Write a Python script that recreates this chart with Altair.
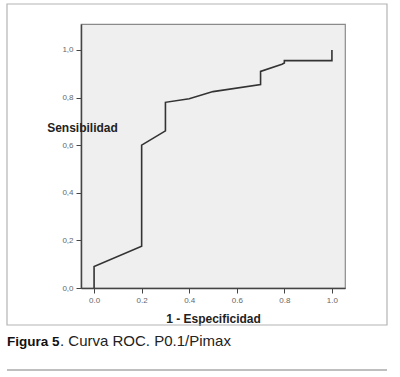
import altair as alt
import pandas as pd

# ROC curve points (1 - specificity, sensitivity)
fpr = [0.0, 0.0, 0.2, 0.2, 0.3, 0.3, 0.4, 0.5, 0.7, 0.7, 0.79, 0.8, 0.8, 1.0, 1.0]
tpr = [0.0, 0.09, 0.175, 0.60, 0.66, 0.78, 0.795, 0.825, 0.855, 0.91, 0.94, 0.945, 0.955, 0.955, 1.0]
ticks = [0.0, 0.2, 0.4, 0.6, 0.8, 1.0]

x_title = "1 - Especificidad"
y_title = "Sensibilidad"
caption_bold = "Figura 5"
caption_rest = ". Curva ROC. P0.1/Pimax"

df = pd.DataFrame({"fpr": fpr, "tpr": tpr, "i": list(range(len(fpr)))})

W, H = 264, 264
PL, PT = 81, 24

x_scale = alt.Scale(domain=[-0.055, 1.055], nice=False, zero=False)
y_scale = alt.Scale(domain=[0, 1.109], nice=False)

frame = alt.Chart(pd.DataFrame({"a": [0]})).mark_rect(
    fill="white", fillOpacity=0, stroke="#b4b4b4", strokeWidth=1.2
).encode(
    x=alt.value(7 - PL), x2=alt.value(387 - PL),
    y=alt.value(4 - PT), y2=alt.value(325 - PT)
)

line = alt.Chart(df).mark_line(color="#333333", strokeWidth=1.6).encode(
    x=alt.X("fpr:Q", scale=x_scale,
            axis=alt.Axis(values=ticks, format=".1f", title=x_title,
                          titleFontSize=12, titleFontWeight="bold",
                          titleFont="Liberation Sans", titleColor="#222",
                          titlePadding=4, titleY=37, titleBaseline="bottom")),
    y=alt.Y("tpr:Q", scale=y_scale,
            axis=alt.Axis(values=ticks,
                          labelExpr="replace(format(datum.value, '.1f'), '.', ',')",
                          title=y_title, titleAngle=0, titleFontSize=12,
                          titleFontWeight="bold", titleFont="Liberation Sans",
                          titleColor="#222", titleX=1, titleY=107,
                          titleAlign="center", titleBaseline="alphabetic")),
    order="i:O",
)

cap1 = alt.Chart(pd.DataFrame({"t": [caption_bold]})).mark_text(
    align="left", baseline="alphabetic", fontSize=13.5, fontWeight="bold",
    font="Liberation Sans, Arial, sans-serif", color="#111"
).encode(text="t:N", x=alt.value(7 - PL), y=alt.value(346 - PT))

cap2 = alt.Chart(pd.DataFrame({"t": [caption_rest]})).mark_text(
    align="left", baseline="alphabetic", fontSize=15,
    font="Liberation Sans, Arial, sans-serif", color="#222"
).encode(text="t:N", x=alt.value(60 - PL), y=alt.value(346 - PT))

sep = alt.Chart(pd.DataFrame({"a": [0]})).mark_rule(
    color="#aaaaaa", strokeWidth=1.5
).encode(x=alt.value(7 - PL), x2=alt.value(387 - PL), y=alt.value(370 - PT))

chart = alt.layer(frame, line, cap1, cap2, sep).properties(
    width=W, height=H,
    autosize=alt.AutoSizeParams(type="none"),
    padding={"left": PL, "top": PT, "right": 400 - PL - W, "bottom": 377 - PT - H},
    background="white",
).configure_view(
    fill="#efefef", stroke="#8a8a8a", strokeWidth=1.2
).configure_axis(
    grid=False, labelFont="Liberation Sans", labelFontSize=8, labelColor="#666",
    tickColor="#444", tickSize=5, tickWidth=1, domainColor="#444", domainWidth=1.5,
    labelPadding=3
)

chart.save("out.html", embed_options={"renderer": "svg", "actions": False})
